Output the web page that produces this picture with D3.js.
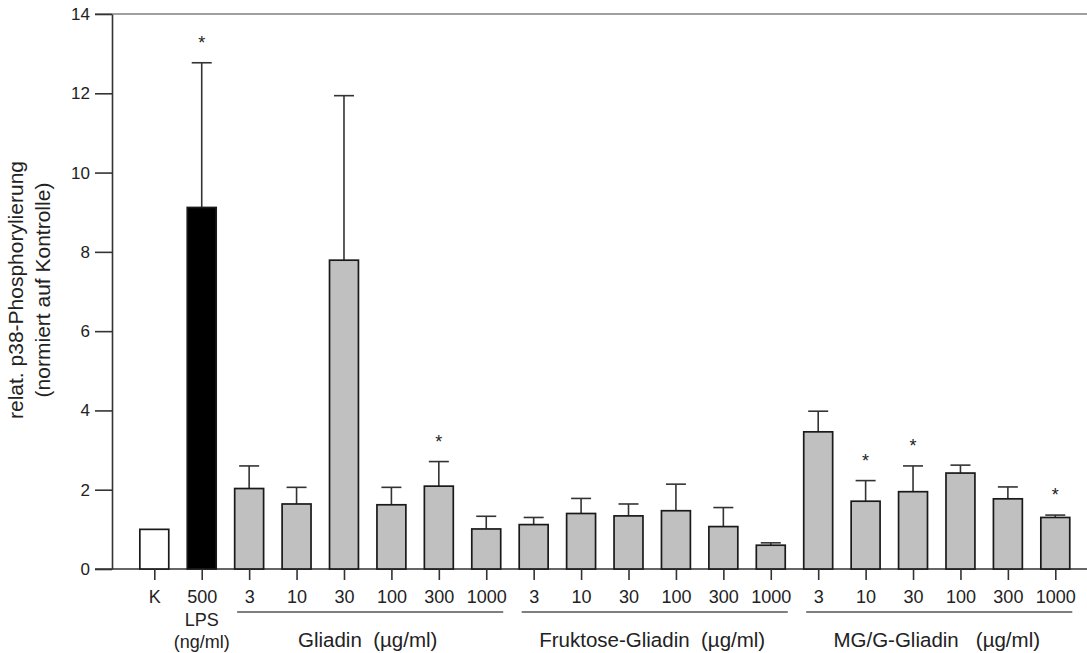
<!DOCTYPE html>
<html>
<head>
<meta charset="utf-8">
<script src="https://cdn.jsdelivr.net/npm/d3@7"></script>
<style>
  html, body { margin: 0; padding: 0; background: #fff; }
  svg { display: block; font-family: "Liberation Sans", Arial, Helvetica, sans-serif; }
</style>
</head>
<body>
<svg id="chart" width="1087" height="653"></svg>
<script>
// Conditions in plotting order
const conditions = ["K", "LPS",
  "G3", "G10", "G30", "G100", "G300", "G1000",
  "F3", "F10", "F30", "F100", "F300", "F1000",
  "M3", "M10", "M30", "M100", "M300", "M1000"];

// Tick labels under each bar
const tickLabels = ["K", "500",
  "3", "10", "30", "100", "300", "1000",
  "3", "10", "30", "100", "300", "1000",
  "3", "10", "30", "100", "300", "1000"];

// Mean relative p38 phosphorylation (normalised to control)
const means = [1.00, 9.12,
  2.03, 1.64, 7.79, 1.62, 2.09, 1.01,
  1.12, 1.40, 1.34, 1.47, 1.07, 0.60,
  3.46, 1.71, 1.95, 2.42, 1.77, 1.30];

// Upper error (SEM)
const errors = [0, 3.65,
  0.57, 0.42, 4.15, 0.44, 0.62, 0.32,
  0.18, 0.38, 0.30, 0.67, 0.48, 0.06,
  0.52, 0.52, 0.65, 0.20, 0.30, 0.06];

// Significant differences versus control
const significant = ["LPS", "G300", "M10", "M30", "M1000"];

// Treatment groups with bracket labels
const groupNames = ["Gliadin  (µg/ml)", "Fruktose-Gliadin  (µg/ml)", "MG/G-Gliadin   (µg/ml)"];
const groupMembers = [
  ["G3", "G1000"],
  ["F3", "F1000"],
  ["M3", "M1000"]
];

const yTicks = [0, 2, 4, 6, 8, 10, 12, 14];

const svg = d3.select("#chart");
const W = 1087;

const y = d3.scaleLinear().domain([0, 14]).range([569, 14]);
const x = d3.scalePoint().domain(conditions).range([154.3, 1055.3]);
const barW = x.step() * 0.61;

const fillFor = id => id === "K" ? "#ffffff" : id === "LPS" ? "#000000" : "#c0c0c0";

const data = conditions.map((id, i) => ({
  id, label: tickLabels[i], mean: means[i], err: errors[i],
  sig: significant.includes(id)
}));

// Top frame line
svg.append("line")
  .attr("x1", 95).attr("x2", W)
  .attr("y1", y(14)).attr("y2", y(14))
  .attr("stroke", "#808080").attr("stroke-width", 1.6);

// Baseline
svg.append("line")
  .attr("x1", 95).attr("x2", W)
  .attr("y1", y(0)).attr("y2", y(0))
  .attr("stroke", "#333").attr("stroke-width", 1.6);

// Y axis
const yAxis = svg.append("g")
  .attr("transform", "translate(112,0)")
  .call(d3.axisLeft(y).tickValues(yTicks).tickSize(17).tickPadding(5).tickSizeOuter(0));
yAxis.select(".domain").attr("stroke", "#333").attr("stroke-width", 1.6);
yAxis.selectAll(".tick line").attr("stroke", "#333").attr("stroke-width", 1.6);
yAxis.selectAll(".tick text")
  .attr("fill", "#222")
  .style("font-size", "17px")
  .style("font-family", "'Liberation Sans', Arial, sans-serif");

// Y axis title
const yTitle = svg.append("text")
  .attr("transform", "translate(22.5,290) rotate(-90)")
  .attr("text-anchor", "middle")
  .attr("fill", "#222")
  .style("font-size", "21px");
yTitle.append("tspan").attr("x", 0).attr("y", 0).text("relat. p38-Phosphorylierung");
yTitle.append("tspan").attr("x", 0).attr("y", 27).text("(normiert auf Kontrolle)");

// Error bars (upper only)
const eb = svg.append("g").attr("stroke", "#333").attr("stroke-width", 1.6);
data.filter(d => d.err > 0).forEach(d => {
  const cx = x(d.id);
  eb.append("line").attr("x1", cx).attr("x2", cx)
    .attr("y1", y(d.mean)).attr("y2", y(d.mean + d.err));
  eb.append("line").attr("x1", cx - 10).attr("x2", cx + 10)
    .attr("y1", y(d.mean + d.err)).attr("y2", y(d.mean + d.err));
});

// Bars
svg.append("g").selectAll("rect").data(data).join("rect")
  .attr("x", d => x(d.id) - barW / 2)
  .attr("width", barW)
  .attr("y", d => y(d.mean))
  .attr("height", d => y(0) - y(d.mean))
  .attr("fill", d => fillFor(d.id))
  .attr("stroke", "#1a1a1a")
  .attr("stroke-width", 1.7);

// Significance marks
svg.append("g").selectAll("text").data(data.filter(d => d.sig)).join("text")
  .attr("x", d => x(d.id))
  .attr("y", d => y(d.mean + d.err) - 14)
  .attr("text-anchor", "middle")
  .attr("fill", "#222")
  .style("font-size", "18px")
  .text("*");

// X axis ticks and labels
const xAxis = svg.append("g")
  .attr("transform", `translate(0,${y(0)})`)
  .call(d3.axisBottom(x).tickSize(11).tickPadding(10).tickSizeOuter(0)
    .tickFormat((id, i) => tickLabels[i]));
xAxis.select(".domain").remove();
xAxis.selectAll(".tick line").attr("stroke", "#333").attr("stroke-width", 1.6);
xAxis.selectAll(".tick text")
  .attr("fill", "#222")
  .style("font-size", "18px")
  .style("font-family", "'Liberation Sans', Arial, sans-serif");

// LPS unit lines
svg.append("text").attr("x", x("LPS")).attr("y", 626)
  .attr("text-anchor", "middle").attr("fill", "#222").style("font-size", "18px").text("LPS");
svg.append("text").attr("x", x("LPS")).attr("y", 648)
  .attr("text-anchor", "middle").attr("fill", "#222").style("font-size", "18px").text("(ng/ml)");

// Group brackets and labels
groupMembers.forEach((m, i) => {
  const x1 = x(m[0]) - 12, x2 = x(m[1]) + 17;
  svg.append("line").attr("x1", x1).attr("x2", x2)
    .attr("y1", 612).attr("y2", 612)
    .attr("stroke", "#555").attr("stroke-width", 1.3);
  svg.append("text")
    .attr("x", (x(m[0]) + x(m[1])) / 2).attr("y", 647)
    .attr("text-anchor", "middle")
    .attr("fill", "#222")
    .attr("xml:space", "preserve")
    .style("white-space", "pre")
    .style("font-size", "20.5px")
    .text(groupNames[i]);
});
</script>
</body>
</html>
